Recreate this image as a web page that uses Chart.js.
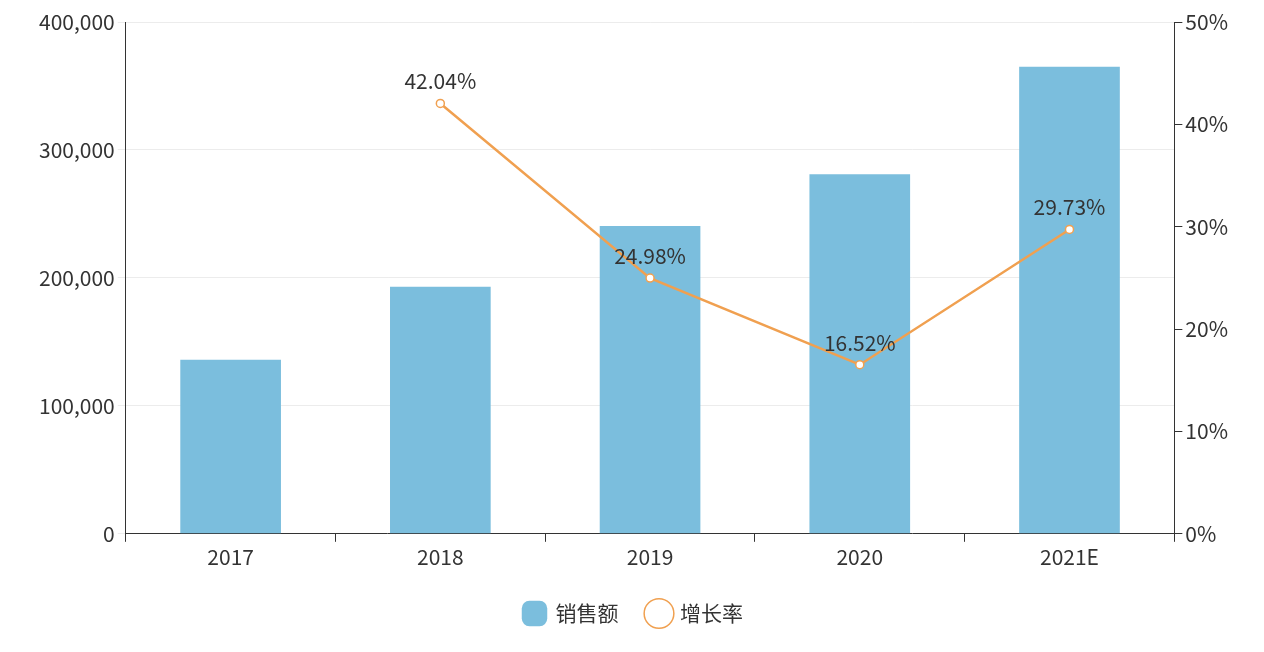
<!DOCTYPE html>
<html><head><meta charset="utf-8">
<script src="https://cdn.jsdelivr.net/npm/chart.js@4"></script>
<style>html,body{margin:0;background:#fff}#wrap{width:1264px;height:652px}</style>
</head><body><div id="wrap"><canvas id="c" width="1264" height="652"></canvas></div>
<script>
var years = ['2017', '2018', '2019', '2020', '2021E'];
var sales = [136000, 193000, 240500, 281000, 365000];
var growth = [null, 42.04, 24.98, 16.52, 29.73];
var FONT = "'Noto Sans CJK SC', 'DejaVu Sans', sans-serif";

var labelPlugin = {
    id: 'pctLabels',
    afterDatasetsDraw: function(chart){
        var ctx = chart.ctx;
        var meta = chart.getDatasetMeta(1);
        ctx.save();
        ctx.font = '21px ' + FONT;
        ctx.fillStyle = '#333';
        ctx.textAlign = 'center';
        meta.data.forEach(function(pt, i){
            if(growth[i] === null) return;
            ctx.fillText(growth[i].toFixed(2) + '%', pt.x, pt.y - 22);
        });
        ctx.restore();
    }
};

new Chart(document.getElementById('c'), {
    type: 'bar',
    data: {
        labels: years,
        datasets: [{
            label: '销售额',
            data: sales,
            backgroundColor: '#7bbedd',
            barPercentage: 0.48,
            categoryPercentage: 1,
            pointStyle: 'rectRounded',
            yAxisID: 'y',
            order: 2
        }, {
            label: '增长率',
            type: 'line',
            data: growth,
            borderColor: '#f0a050',
            backgroundColor: '#fff',
            borderWidth: 2.5,
            pointRadius: 4,
            pointBorderWidth: 1.5,
            pointStyle: 'circle',
            yAxisID: 'y1',
            order: 1
        }]
    },
    options: {
        responsive: false,
        animation: false,
        layout: {padding: {left: 36, right: 33, top: 22, bottom: 18}},
        plugins: {
            legend: {
                position: 'bottom',
                labels: {
                    font: {size: 21, family: FONT},
                    color: '#333',
                    usePointStyle: true,
                    padding: 30,
                    sort: function(a, b){ return a.datasetIndex - b.datasetIndex; }
                }
            },
            tooltip: {enabled: false}
        },
        scales: {
            x: {
                grid: {display: true, drawOnChartArea: false, offset: true, color: '#333', tickLength: 8},
                border: {color: '#333'},
                ticks: {font: {size: 21, family: FONT}, color: '#333'}
            },
            y: {
                min: 0, max: 400000,
                ticks: {stepSize: 100000, font: {size: 21, family: FONT}, color: '#333',
                    callback: function(v){ return v.toLocaleString('en-US'); }},
                grid: {color: '#ececec', tickLength: 8},
                border: {color: '#333'}
            },
            y1: {
                position: 'right',
                min: 0, max: 50,
                ticks: {stepSize: 10, font: {size: 21, family: FONT}, color: '#333',
                    callback: function(v){ return v + '%'; }},
                grid: {drawOnChartArea: false, color: '#333', tickLength: 8},
                border: {color: '#333'}
            }
        }
    },
    plugins: [labelPlugin]
});
</script>
</body></html>
